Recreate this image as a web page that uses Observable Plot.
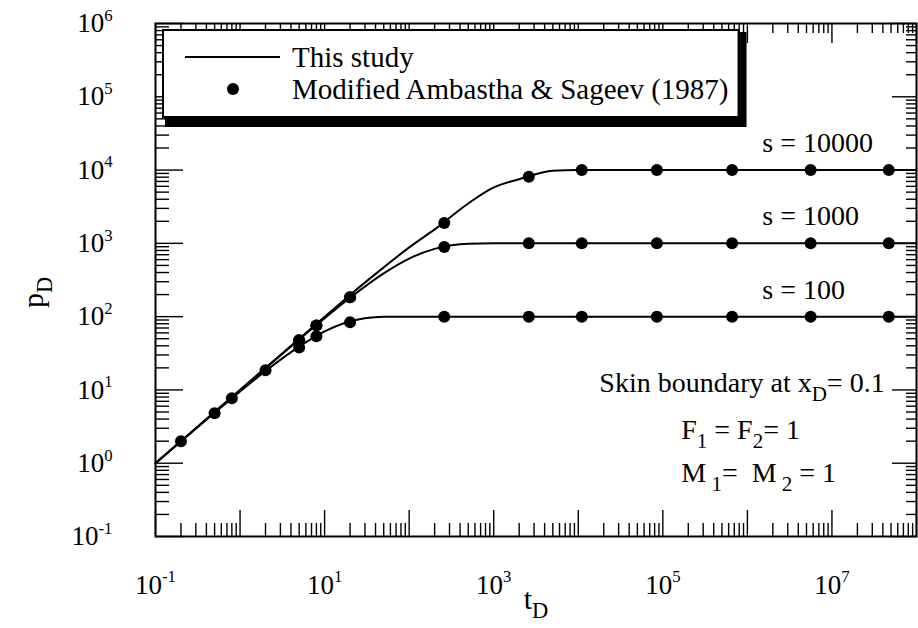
<!DOCTYPE html>
<html><head><meta charset="utf-8">
<script src="https://cdn.jsdelivr.net/npm/d3@7"></script>
<script src="https://cdn.jsdelivr.net/npm/@observablehq/plot@0.6"></script>
<style>body{margin:0;background:#fff} #chart svg{display:block}</style>
</head><body><div id="chart"></div>
<script>
// ---- data ----
const sValues = [100, 1000, 10000];
const sLabels = ["s = 100", "s = 1000", "s = 10000"];
const sLabelT = 1.5e6;

// "This study" curves (tD, pD)
const studyT      = [0.1, 0.2, 0.5, 1, 2, 5, 10, 20, 50, 100, 200, 500, 1000, 2000, 5000, 1e4, 2e4, 1e5, 1e6, 1e7, 1e8];
const studyP100   = [1, 2, 4.9, 9.5, 18.1, 39, 63, 86, 99.3, 100, 100, 100, 100, 100, 100, 100, 100, 100, 100, 100, 100];
const studyP1000  = [1, 2, 5, 9.95, 19.8, 48.8, 95, 181, 390, 620, 840, 990, 1000, 1000, 1000, 1000, 1000, 1000, 1000, 1000, 1000];
const studyP10000 = [1, 2, 5, 10, 20, 50, 99.5, 198, 470, 880, 1550, 3500, 5800, 7500, 9800, 10000, 10000, 10000, 10000, 10000, 10000];

// Modified Ambastha & Sageev (1987) points
const ambT100   = [0.2, 0.5, 0.8, 2, 5, 8, 20, 260, 2600, 1.1e4, 8.5e4, 6.6e5, 5.6e6, 4.7e7];
const ambP100   = [2, 4.8, 7.7, 18.5, 38, 54, 84, 100, 100, 100, 100, 100, 100, 100];
const ambT1000  = [5, 8, 20, 260, 2600, 1.1e4, 8.5e4, 6.6e5, 5.6e6, 4.7e7];
const ambP1000  = [47.6, 76, 184, 890, 1000, 1000, 1000, 1000, 1000, 1000];
const ambT10000 = [5, 8, 20, 260, 2600, 1.1e4, 8.5e4, 6.6e5, 5.6e6, 4.7e7];
const ambP10000 = [47.6, 76, 184, 1900, 8100, 10000, 10000, 10000, 10000, 10000];

// axes
const xMajor = [0.1, 1, 10, 100, 1e3, 1e4, 1e5, 1e6, 1e7, 1e8];
const xLabelValues = [0.1, 10, 1e3, 1e5, 1e7];
const xLabels = ["10^{-1}", "10^{1}", "10^{3}", "10^{5}", "10^{7}"];
const yMajor = [0.1, 1, 10, 100, 1e3, 1e4, 1e5, 1e6];
const yLabels = ["10^{-1}", "10^{0}", "10^{1}", "10^{2}", "10^{3}", "10^{4}", "10^{5}", "10^{6}"];
const xTitle = "t_{D}";
const yTitle = "p_{D}";
const legendLabels = ["This study", "Modified Ambastha & Sageev (1987)"];
const noteSkin = "Skin boundary at x_{D}= 0.1";
const noteSkinT = 4.2e7, noteSkinP = 12.3;
const noteFM = ["F_{1} = F_{2}= 1", "M_{ 1}=  M_{ 2} = 1"];
const noteFMT = 1.65e5;
const noteFMP = [2.8, 0.73];

// ---- build tables ----
const studyP = [studyP100, studyP1000, studyP10000];
const curves = sValues.flatMap((s, k) => studyT.map((t, i) => ({s, t, p: studyP[k][i]})));
const ambT = [ambT100, ambT1000, ambT10000], ambP = [ambP100, ambP1000, ambP10000];
const dots = sValues.flatMap((s, k) => ambT[k].map((t, i) => ({s, t, p: ambP[k][i]})));
const minorOf = (major) => major.slice(0, -1).flatMap(d => [2,3,4,5,6,7,8,9].map(m => d * m));
const xMinor = minorOf(xMajor), yMinor = minorOf(yMajor);

const W = 918, H = 628, mL = 155, mR = 2, mT = 23, mB = 92;
const PW = W - mL - mR, PH = H - mT - mB;
const font = "'Liberation Serif', 'Times New Roman', serif";
const tick = {stroke: "black", strokeWidth: 1.4};

const chart = Plot.plot({
  width: W, height: H,
  marginLeft: mL, marginRight: mR, marginTop: mT, marginBottom: mB,
  style: {fontFamily: font, background: "white", color: "black"},
  x: {type: "log", domain: [0.1, 1e8], axis: null},
  y: {type: "log", domain: [0.1, 1e6], axis: null},
  marks: [
    // inward ticks on four sides
    Plot.ruleX(xMinor, {...tick, insetTop: PH - 13}),
    Plot.ruleX(xMajor, {...tick, insetTop: PH - 26}),
    Plot.ruleX(xMinor, {...tick, insetBottom: PH - 10}),
    Plot.ruleX(xMajor, {...tick, insetBottom: PH - 20}),
    Plot.ruleY(yMinor, {...tick, insetRight: PW - 14}),
    Plot.ruleY(yMajor, {...tick, insetRight: PW - 28}),
    Plot.ruleY(yMinor, {...tick, insetLeft: PW - 10}),
    Plot.ruleY(yMajor, {...tick, insetLeft: PW - 24}),
    Plot.frame({stroke: "black", strokeWidth: 2}),
    // curves and points
    Plot.line(curves, {x: "t", y: "p", z: "s", stroke: "black", strokeWidth: 2, curve: "monotone-x"}),
    Plot.dot(dots, {x: "t", y: "p", r: 6, fill: "black", stroke: "none"}),
    // tick labels
    Plot.text(xLabelValues, {x: d => d, text: (d, i) => xLabels[i], frameAnchor: "bottom", dy: 57, fontSize: 27}),
    Plot.text(yMajor, {y: d => d, text: (d, i) => yLabels[i], frameAnchor: "left", textAnchor: "end", dx: -43, fontSize: 27}),
    // axis titles
    Plot.text([xTitle], {frameAnchor: "bottom", dy: 72, fontSize: 30}),
    Plot.text([yTitle], {frameAnchor: "left", dx: -122, dy: 28, rotate: -90, fontSize: 30}),
    // curve labels
    Plot.text(sValues, {x: () => sLabelT, y: d => d, text: (d, i) => sLabels[i], textAnchor: "start", dy: -27, fontSize: 28}),
    // annotations
    Plot.text([noteSkin], {x: () => noteSkinT, y: () => noteSkinP, text: d => d, textAnchor: "end", fontSize: 28}),
    Plot.text(noteFM, {x: () => noteFMT, y: (d, i) => noteFMP[i], text: d => d, textAnchor: "start", fontSize: 28})
  ]
});

document.getElementById("chart").appendChild(chart);

// legend box (inside the frame, top-left)
const svg = d3.select(chart);
const lg = svg.append("g").attr("font-family", font).attr("font-size", 29).attr("text-anchor", "start");
const shadow = lg.append("rect").attr("fill", "black");
const box = lg.append("rect").attr("fill", "white").attr("stroke", "black").attr("stroke-width", 2);
lg.append("line").attr("x1", 185).attr("x2", 280).attr("y1", 57).attr("y2", 57).attr("stroke", "black").attr("stroke-width", 2);
lg.append("circle").attr("cx", 233).attr("cy", 89).attr("r", 6).attr("fill", "black");
const texts = legendLabels.map((t, i) => lg.append("text").attr("x", 292).attr("y", [57, 89][i]).attr("dy", "0.33em").attr("text-anchor", "start").text(t));
const tw = d3.max(texts, t => t.node().getComputedTextLength());
const bx = 163, by = 30, bw = 292 + tw + 10 - bx, bh = 87;
box.attr("x", bx).attr("y", by).attr("width", bw).attr("height", bh);
shadow.attr("x", bx + 2).attr("y", by + 2).attr("width", bw + 6).attr("height", bh + 8);

// rich text: _{sub} and ^{sup}
svg.selectAll("text").each(function() {
  const t = this.textContent;
  if (!/[_^]\{/.test(t)) return;
  const fs = parseFloat(getComputedStyle(this).fontSize);
  const parts = t.split(/([_^]\{[^}]*\})/).filter(s => s.length);
  this.textContent = "";
  let off = 0;
  for (const p of parts) {
    const ts = d3.select(this).append("tspan");
    let target = 0, txt = p, size = null;
    if (p.startsWith("_{")) { target = 0.3 * fs; txt = p.slice(2, -1); size = 0.75 * fs; }
    else if (p.startsWith("^{")) { target = -0.42 * fs; txt = p.slice(2, -1); size = 0.62 * fs; }
    ts.text(txt);
    if (size) ts.attr("font-size", size);
    if (target !== off) ts.attr("dy", target - off);
    off = target;
  }
});
</script>
</body></html>
